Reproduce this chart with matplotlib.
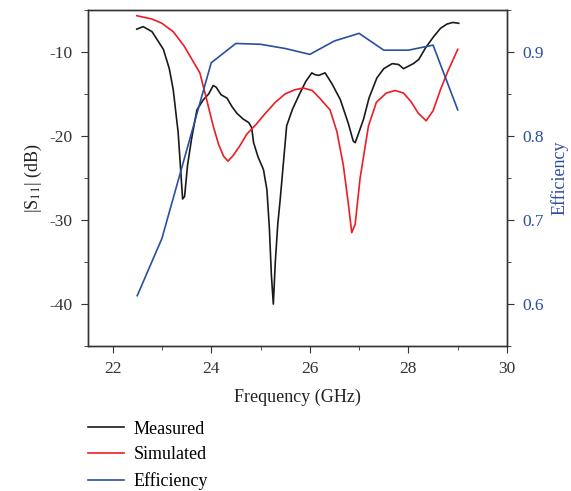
import numpy as np
import matplotlib
matplotlib.use("Agg")
import matplotlib.pyplot as plt
from matplotlib.ticker import MultipleLocator

plt.rcParams['font.family'] = ['Liberation Serif', 'DejaVu Serif']
plt.rcParams['mathtext.fontset'] = 'stix'
plt.rcParams['axes.unicode_minus'] = False

# Measured |S11| (dB)
f_meas = [22.49, 22.62, 22.8, 23.03, 23.15, 23.23, 23.33, 23.38, 23.42, 23.46, 23.52, 23.6,
          23.71, 23.84, 23.95, 24.04, 24.1, 24.2, 24.32, 24.42, 24.52, 24.65, 24.76, 24.82,
          24.86, 24.95, 25.06, 25.13, 25.18, 25.22, 25.26, 25.3, 25.35, 25.4, 25.46, 25.53,
          25.65, 25.8, 25.92, 26.04, 26.1, 26.18, 26.31, 26.45, 26.62, 26.78, 26.88, 26.92,
          26.97, 27.09, 27.2, 27.36, 27.5, 27.67, 27.8, 27.9, 28.0, 28.1, 28.21, 28.35,
          28.51, 28.65, 28.78, 28.9, 29.02]
s_meas = [-7.3, -7.0, -7.6, -9.7, -12.0, -14.5, -19.6, -24.0, -27.5, -27.2, -23.5, -20.4,
          -16.9, -15.7, -15.0, -14.0, -14.2, -15.1, -15.5, -16.5, -17.3, -18.0, -18.4, -19.0,
          -20.8, -22.5, -24.0, -26.4, -31.0, -36.5, -40.0, -35.0, -30.5, -27.5, -23.5, -18.8,
          -16.8, -14.9, -13.5, -12.5, -12.7, -12.8, -12.5, -13.8, -15.7, -18.5, -20.6, -20.8,
          -20.0, -18.0, -15.5, -13.1, -12.0, -11.4, -11.5, -12.0, -11.7, -11.4, -10.9, -9.5,
          -8.2, -7.2, -6.7, -6.5, -6.6]

# Simulated |S11| (dB)
f_sim = [22.49, 22.8, 23.0, 23.23, 23.45, 23.6, 23.77, 23.9, 24.04, 24.15, 24.25, 24.34,
         24.45, 24.6, 24.72, 24.9, 25.1, 25.3, 25.5, 25.7, 25.87, 26.05, 26.2, 26.41, 26.55,
         26.68, 26.78, 26.85, 26.92, 27.02, 27.19, 27.35, 27.55, 27.73, 27.9, 28.05, 28.2,
         28.36, 28.5, 28.65, 28.8, 29.0]
s_sim = [-5.7, -6.1, -6.6, -7.6, -9.3, -10.8, -12.5, -15.5, -18.8, -21.0, -22.4, -23.0,
         -22.3, -21.0, -19.8, -18.7, -17.3, -16.0, -15.0, -14.5, -14.3, -14.6, -15.5, -16.9,
         -19.5, -23.5, -28.0, -31.5, -30.5, -25.0, -18.8, -16.0, -14.9, -14.6, -14.9, -15.9,
         -17.3, -18.2, -17.0, -14.5, -12.3, -9.7]

# Efficiency
f_eff = [22.5, 23.0, 24.0, 24.5, 25.0, 25.5, 26.0, 26.5, 27.0, 27.5, 28.0, 28.5, 29.0]
eff = [0.61, 0.678, 0.887, 0.910, 0.909, 0.904, 0.897, 0.913, 0.922, 0.902, 0.902, 0.908, 0.831]

blue = '#2a4ea3'
fig = plt.figure(figsize=(5.71, 4.91), dpi=100)
ax = fig.add_axes([0.154, 0.295, 0.734, 0.685])
ax2 = ax.twinx()

l1, = ax.plot(f_meas, s_meas, color='#1a1a1a', lw=1.2, label='Measured')
l2, = ax.plot(f_sim, s_sim, color='#ee1c25', lw=1.2, label='Simulated')
l3, = ax2.plot(f_eff, eff, color=blue, lw=1.2, label='Efficiency')

ax.set_xlim(21.5, 30)
ax.set_ylim(-45, -5)
ax2.set_ylim(0.55, 0.95)
ax.xaxis.set_major_locator(MultipleLocator(2))
ax.xaxis.set_minor_locator(MultipleLocator(1))
ax.yaxis.set_minor_locator(MultipleLocator(5))
ax2.yaxis.set_minor_locator(MultipleLocator(0.05))
ax.set_yticks([-10, -20, -30, -40])
ax2.set_yticks([0.6, 0.7, 0.8, 0.9])

for a in (ax, ax2):
    for s in a.spines.values():
        s.set_color('#333333')
        s.set_linewidth(1.0)
    a.tick_params(which='both', direction='out', colors='#333333', labelsize=12.5, pad=6)
    a.tick_params(which='major', length=5)
    a.tick_params(which='minor', length=3)
ax2.tick_params(axis='y', labelcolor=blue)

ax.set_xlabel('Frequency (GHz)', fontsize=13, color='#222222', labelpad=8)
ax.set_ylabel('|S$_{11}$| (dB)', fontsize=13, color='#222222', labelpad=4)
ax2.set_ylabel('Efficiency', fontsize=13, color=blue, labelpad=5)

fig.legend(handles=[l1, l2, l3], loc='upper left', bbox_to_anchor=(0.154, 0.143),
           frameon=False, fontsize=13, handlelength=2.0, handletextpad=0.55,
           labelspacing=0.48, borderpad=0, borderaxespad=0)

fig.savefig('out.png', dpi=100)
